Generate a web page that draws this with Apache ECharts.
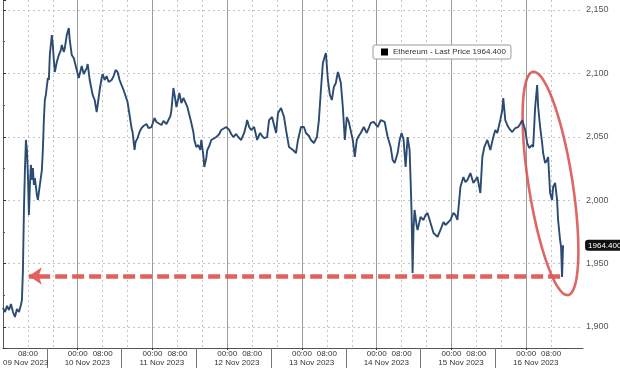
<!DOCTYPE html>
<html><head><meta charset="utf-8">
<script src="https://cdn.jsdelivr.net/npm/echarts@6.0.0/dist/echarts.min.js"></script>
<style>html,body{margin:0;padding:0;background:#fff}#c{width:620px;height:368px}</style>
</head><body><div id="c"></div>
<script>
// hours since 09 Nov 2023 00:00
const hours = [0,0.64,1.28,1.92,2.56,3.2,3.84,4.48,5.12,5.76,
6.08,6.4,6.72,7.04,7.36,7.68,8,8.32,8.64,8.96,
9.28,9.6,9.92,10.24,10.88,11.2,11.84,12.48,12.8,13.12,
13.44,13.76,14.4,14.72,15.04,15.68,16,16.32,16.64,17.28,
17.92,18.56,18.88,19.52,19.84,20.48,21.12,21.44,22.08,22.72,
23.04,23.68,24.32,24.96,25.28,25.92,26.24,26.88,27.2,27.84,
28.48,28.8,29.44,30.08,30.4,31.04,31.68,32,32.64,33.28,
33.92,34.88,35.52,36.16,36.8,37.44,38.08,38.72,39.36,40,
40.64,41.28,41.6,42.24,42.56,43.2,43.84,44.48,45.12,46.08,
46.72,47.68,48.64,49.28,49.92,50.88,51.52,52.48,53.12,53.76,
54.08,54.72,55.36,55.68,56.32,56.64,57.28,57.92,58.24,59.2,
59.84,60.48,61.12,61.44,62.08,62.72,63.36,63.68,64.32,64.64,
65.28,65.6,66.24,66.88,67.52,68.48,69.44,70.08,70.72,71.68,
72.64,73.28,73.92,74.88,75.52,76.48,77.44,78.08,78.4,79.04,
79.68,80.64,81.6,82.56,83.2,83.84,84.8,85.44,86.4,87.04,
87.68,88.32,89.28,90.24,90.88,91.84,92.48,93.12,94.08,94.72,
95.68,96.64,97.28,98.24,98.88,99.84,100.8,101.44,102.08,102.72,
103.36,103.68,104.32,104.96,105.6,106.24,106.88,107.52,107.84,108.48,
109.12,109.76,110.4,111.04,111.68,112.32,112.96,113.6,114.24,114.88,
115.84,116.8,117.44,118.08,119.04,119.68,120.32,121.28,121.92,122.56,
123.52,124.48,125.12,125.76,126.72,127.36,128,128.64,129.28,129.92,
130.56,130.88,131.2,131.52,131.84,132.16,132.8,133.12,134.08,135.04,
135.68,136.32,137.28,138.24,138.88,139.52,140.48,141.44,142.08,142.72,
143.68,144.64,145.28,145.92,146.88,147.84,148.48,149.12,150.08,151.04,
151.68,152.32,153.28,153.92,154.56,155.52,156.48,157.44,158.08,158.72,
159.68,160.32,160.64,161.28,161.92,162.24,162.88,163.52,164.48,165.44,
166.08,166.72,167.68,168.32,168.96,169.92,170.24,170.88,171.52,171.84,
172.48,173.12,173.44,174.08,174.72,175.04,175.68,176.32,176.64,177.28,
177.92,178.24,178.88,179.2,179.52,179.84];

const prices = [1915.0,1911.8,1916.6,1913.4,1918.1,1911.8,1907.9,1914.2,1911.8,1917.3,
1921.3,1944.9,1992.3,2023.8,2047.5,2039.6,2019.9,1988.3,2012.0,2027.8,
2015.9,2025.4,2012.0,2017.5,2004.1,2000.2,2012.0,2023.8,2039.6,2063.2,
2079.0,2083.0,2096.4,2094.8,2114.5,2130.3,2122.4,2110.6,2101.1,2109.0,
2114.5,2118.4,2122.4,2116.9,2120.0,2130.3,2135.8,2126.3,2114.5,2112.1,
2109.0,2102.7,2096.4,2102.7,2105.8,2099.5,2101.1,2104.2,2107.4,2094.8,
2086.9,2083.0,2079.0,2069.5,2075.1,2086.9,2096.4,2099.5,2094.8,2097.9,
2093.2,2094.8,2097.9,2102.7,2101.1,2094.8,2090.8,2086.9,2082.2,2077.4,
2067.2,2056.9,2053.8,2039.6,2045.9,2049.0,2053.8,2056.9,2058.5,2060.1,
2056.9,2057.7,2064.8,2061.7,2063.2,2059.3,2062.5,2060.1,2059.3,2066.4,
2071.1,2088.5,2079.0,2073.5,2080.6,2084.5,2076.6,2080.6,2079.0,2073.5,
2067.2,2060.9,2053.8,2047.5,2041.9,2043.5,2039.6,2047.5,2035.6,2026.2,
2033.3,2039.6,2042.7,2047.5,2046.7,2049.8,2052.2,2055.4,2056.9,2057.7,
2055.4,2052.2,2049.8,2052.2,2049.8,2047.5,2053.0,2059.3,2063.2,2057.7,
2055.4,2057.7,2047.5,2053.0,2050.6,2049.0,2049.8,2063.2,2065.6,2059.3,
2053.0,2068.8,2072.7,2065.6,2055.4,2041.9,2041.2,2039.6,2037.2,2047.5,
2057.7,2057.7,2053.0,2050.6,2047.5,2045.1,2049.8,2063.2,2086.9,2108.2,
2113.7,2116.1,2094.8,2083.0,2079.0,2089.3,2092.4,2101.1,2098.7,2092.4,
2073.5,2047.5,2065.6,2061.7,2060.9,2047.5,2034.1,2047.5,2050.6,2053.0,
2057.7,2053.0,2056.9,2060.9,2061.7,2063.2,2057.7,2063.2,2062.5,2061.7,
2049.8,2041.9,2031.7,2029.3,2037.2,2047.5,2053.0,2047.5,2026.2,2049.8,
2039.6,2015.9,1989.9,1942.6,1978.9,1992.3,1980.4,1976.5,1986.7,1984.4,
1988.3,1989.9,1982.0,1974.1,1974.9,1971.0,1976.5,1982.8,1980.4,1982.0,
1984.4,1989.9,1988.3,1984.4,2010.4,2018.3,2014.3,2015.9,2021.4,2013.6,
2015.9,2018.3,2005.7,2034.1,2041.9,2047.5,2039.6,2049.8,2055.4,2053.0,
2063.2,2071.1,2080.6,2063.2,2059.3,2057.7,2055.4,2053.8,2056.9,2057.7,
2060.1,2063.2,2055.4,2045.1,2041.2,2043.5,2041.9,2073.5,2090.8,2073.5,
2057.7,2045.1,2037.2,2029.3,2031.7,2034.1,2005.7,2000.2,2010.4,2013.6,
2000.2,1984.4,1968.6,1963.1,1939.4,1964.4];

const timeTickHours  = [8,24,32,48,56,72,80,96,104,120,128,144,152,168,176];
const timeTickLabels = ['08:00','00:00','08:00','00:00','08:00','00:00','08:00','00:00','08:00','00:00','08:00','00:00','08:00','00:00','08:00'];
const dayLineHours = [24,48,72,96,120,144,168];
const subLineHours = [8,16,32,40,56,64,80,88,104,112,128,136,152,160,176];
const dateLabelHours = [0,19.8,43.8,67.8,91.8,115.8,139.8,163.8];
const dateLabels = ['09 Nov 2023','10 Nov 2023','11 Nov 2023','12 Nov 2023','13 Nov 2023','14 Nov 2023','15 Nov 2023','16 Nov 2023'];
const separatorHours = [14.1,38.1,62.1,86.1,110.1,134.1,158.1];
const xRange = [0, 186.24];
const yRange = [1883.4, 2157.9];
const lastPrice = 1964.4;
const seriesName = 'Ethereum - Last Price 1964.400';
const arrowLevel = 1940.2;
const arrowFromHour = 178.9, arrowToHour = 8.3;
const ringCenter = [175.8, 2013.2];

function nearestLabel(v, vals, labels){
  let bi = 0, bd = Infinity;
  for (let i = 0; i < vals.length; i++){ const d = Math.abs(vals[i]-v); if (d < bd){bd = d; bi = i;} }
  return labels[bi];
}

const FONT = 'Liberation Sans, Arial, sans-serif';
const chart = echarts.init(document.getElementById('c'), null, {renderer:'canvas'});
const base = {type:'value', min:xRange[0], max:xRange[1], position:'bottom'};
chart.setOption({
  animation:false,
  backgroundColor:'#ffffff',
  grid:{left:1, right:37, top:0, bottom:20, containLabel:false},
  legend:{
    left:373, top:45, padding:[3,5,3,8], itemWidth:7, itemHeight:7, icon:'rect',
    borderColor:'#9a9a9a', borderWidth:1, borderRadius:2, backgroundColor:'#fff',
    itemStyle:{color:'#000'},
    textStyle:{fontSize:8, color:'#333', fontFamily:FONT},
    data:[seriesName]
  },
  xAxis:[
    Object.assign({}, base, {
      axisLine:{show:true, onZero:false, lineStyle:{color:'#555', width:1}},
      axisTick:{show:true, customValues:dayLineHours, length:2, lineStyle:{color:'#333'}},
      splitLine:{show:true, lineStyle:{color:'#9c9c9c', width:1, type:'solid'}},
      axisLabel:{customValues:timeTickHours, margin:2, fontSize:8, color:'#333', fontFamily:FONT,
        formatter:v => nearestLabel(v, timeTickHours, timeTickLabels)}
    }),
    Object.assign({}, base, {
      axisLine:{show:false}, axisLabel:{show:false},
      axisTick:{show:false, customValues:subLineHours},
      splitLine:{show:true, lineStyle:{color:'#c4c4c4', width:1, type:[2,3]}}
    }),
    Object.assign({}, base, {
      axisLine:{show:false}, splitLine:{show:false},
      axisTick:{show:true, customValues:separatorHours, length:20, lineStyle:{color:'#777', width:1}},
      axisLabel:{customValues:dateLabelHours, margin:11, align:'left', fontSize:8, color:'#333', fontFamily:FONT,
        formatter:v => nearestLabel(v, dateLabelHours, dateLabels)}
    })
  ],
  yAxis:{
    type:'value', position:'right', min:yRange[0], max:yRange[1],
    minInterval:50, maxInterval:50, splitNumber:5,
    axisLine:{show:true, lineStyle:{color:'#555'}},
    axisTick:{show:true, length:3, lineStyle:{color:'#333'}},
    minorTick:{show:true, splitNumber:2, length:2, lineStyle:{color:'#555'}},
    splitLine:{show:true, showMinLine:false, showMaxLine:false, lineStyle:{color:'#c4c4c4', type:[2,3]}},
    axisLabel:{show:true, showMinLabel:false, showMaxLabel:false, margin:3, fontSize:9, color:'#555', fontFamily:FONT}
  },
  series:[{
    name:seriesName, type:'line', xAxisIndex:0, yAxisIndex:0,
    data:hours.map((h,i)=>[h, prices[i]]),
    showSymbol:false, symbol:'none',
    lineStyle:{color:'#2b4b72', width:1.9},
    itemStyle:{color:'#2b4b72'},
    endLabel:{show:true, formatter:()=>lastPrice.toFixed(3), distance:22,
      color:'#fff', backgroundColor:'#111', fontSize:8, fontFamily:FONT,
      padding:[2,3,1,3], borderRadius:3},
    markLine:{
      silent:true, symbol:['none','arrow'], symbolSize:[13,13], label:{show:false},
      lineStyle:{color:'#de5a55', width:4.5, type:[12,5], opacity:0.95},
      emphasis:{disabled:true},
      data:[[{coord:[arrowFromHour, arrowLevel]},{coord:[arrowToHour, arrowLevel]}]]
    }
  }]
});

// red ellipse annotation anchored at data coordinates
const c = chart.convertToPixel({xAxisIndex:0, yAxisIndex:0}, ringCenter);
const a = 113, b = 22, phi = -8.9 * Math.PI / 180;
const pts = [];
for (let k = 0; k <= 96; k++){
  const t = k / 96 * Math.PI * 2;
  const x = b * Math.cos(t), y = a * Math.sin(t);
  pts.push([c[0] + x*Math.cos(phi) - y*Math.sin(phi), c[1] + x*Math.sin(phi) + y*Math.cos(phi)]);
}
chart.setOption({graphic:[{type:'polygon', silent:true, shape:{points:pts},
  style:{fill:'none', stroke:'rgba(216,82,80,0.88)', lineWidth:2.6}}]});
</script></body></html>
